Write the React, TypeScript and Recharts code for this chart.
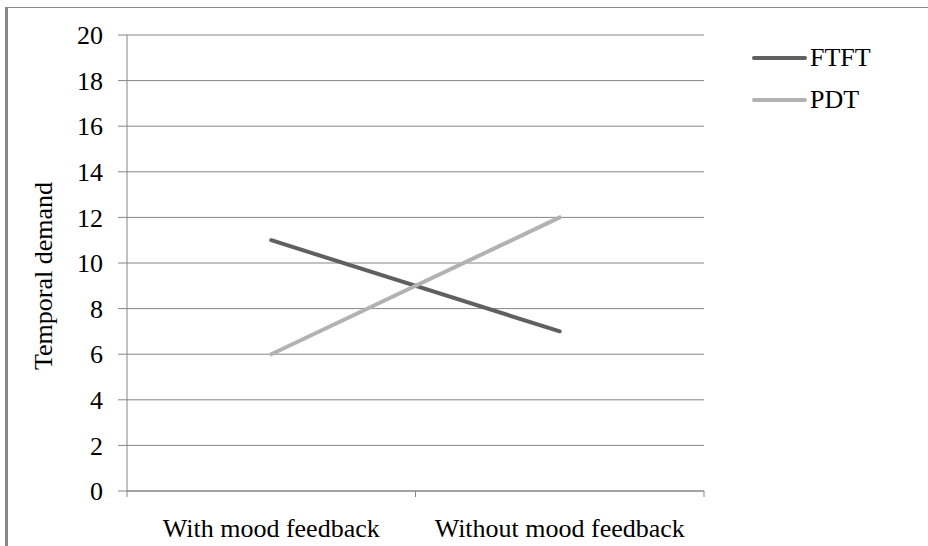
import React from 'react';
import { LineChart, Line, XAxis, YAxis, CartesianGrid } from 'recharts';

const categories = ['With mood feedback', 'Without mood feedback'];
const ftftValues = [11, 7];
const pdtValues = [6, 12];
const yTicks = [0, 2, 4, 6, 8, 10, 12, 14, 16, 18, 20];

const seriesList = [
    { key: 'FTFT', color: '#606060' },
    { key: 'PDT', color: '#b2b2b2' },
];

// categories sit at the middle of each band, like the Excel category axis
const data = categories.map((name, i) => ({
    name,
    x: i + 0.5,
    FTFT: ftftValues[i],
    PDT: pdtValues[i],
}));

const xTicks: number[] = [];
for (let i = 0; i <= categories.length; i++) {
    xTicks.push(i);
    if (i < categories.length) xTicks.push(i + 0.5);
}

const FONT = '"Liberation Serif", "Times New Roman", serif';
const AXIS_COLOR = '#868686';

const CategoryTick = (props: any) => {
    const { x, y, payload } = props;
    const v = payload.value as number;
    if (Number.isInteger(v)) {
        return <line x1={x} y1={y} x2={x} y2={y + 6} stroke={AXIS_COLOR} strokeWidth={1} />;
    }
    const label = categories[Math.floor(v)];
    return (
        <text x={x} y={y + 46} textAnchor="middle" fontFamily={FONT} fontSize={26} fill="#000">
            {label}
        </text>
    );
};

const ValueTick = (props: any) => {
    const { x, y, payload } = props;
    return (
        <text x={x} y={y} dy="0.355em" textAnchor="end" fontFamily={FONT} fontSize={26} fill="#000">
            {payload.value}
        </text>
    );
};

const YLabel = (props: any) => {
    const vb = props.viewBox || { x: 0, y: 35, width: 127, height: 456 };
    const cx = vb.x + 52;
    const cy = vb.y + vb.height / 2 + 13;
    return (
        <text x={cx} y={cy} transform={`rotate(-90, ${cx}, ${cy})`} textAnchor="middle" fontFamily={FONT} fontSize={26} fill="#000">
            Temporal demand
        </text>
    );
};

const ChartLegend = () => (
    <div style={{ position: 'absolute', left: 752, top: 37, fontFamily: FONT, fontSize: 26, color: '#000' }}>
        {seriesList.map((s) => (
            <div key={s.key} style={{ display: 'flex', alignItems: 'center', height: 42 }}>
                <div style={{ width: 55, height: 4, background: s.color, borderRadius: 2, marginRight: 3 }} />
                <span>{s.key}</span>
            </div>
        ))}
    </div>
);

export default function App() {
    return (
        <div style={{ position: 'absolute', left: 0, top: 0, width: 928, height: 546, background: '#fff', overflow: 'hidden', fontFamily: FONT }}>
            <div style={{ position: 'absolute', left: 5, top: 7, width: 923, height: 560, borderLeft: '3px solid #888', borderTop: '1px solid #888' }} />
            <LineChart
                width={928}
                height={546}
                data={data}
                margin={{ top: 35, right: 224, left: 0, bottom: 0 }}
                style={{ position: 'absolute', left: 0, top: 0, fontFamily: FONT }}
            >
                <CartesianGrid vertical={false} stroke={AXIS_COLOR} strokeWidth={1} />
                <XAxis
                    dataKey="x"
                    type="number"
                    domain={[0, categories.length]}
                    ticks={xTicks}
                    interval={0}
                    height={55}
                    tickSize={0}
                    tickMargin={0}
                    tickLine={false}
                    axisLine={{ stroke: AXIS_COLOR }}
                    tick={<CategoryTick />}
                />
                <YAxis
                    domain={[0, 20]}
                    ticks={yTicks}
                    interval={0}
                    width={127}
                    tickSize={9}
                    tickMargin={15}
                    axisLine={{ stroke: AXIS_COLOR }}
                    tickLine={{ stroke: AXIS_COLOR }}
                    tick={<ValueTick />}
                    label={<YLabel />}
                />
                {seriesList.map((s) => (
                    <Line
                        key={s.key}
                        type="linear"
                        dataKey={s.key}
                        stroke={s.color}
                        strokeWidth={4}
                        strokeLinecap="round"
                        dot={false}
                        activeDot={false}
                        isAnimationActive={false}
                    />
                ))}
            </LineChart>
            <ChartLegend />
        </div>
    );
}
